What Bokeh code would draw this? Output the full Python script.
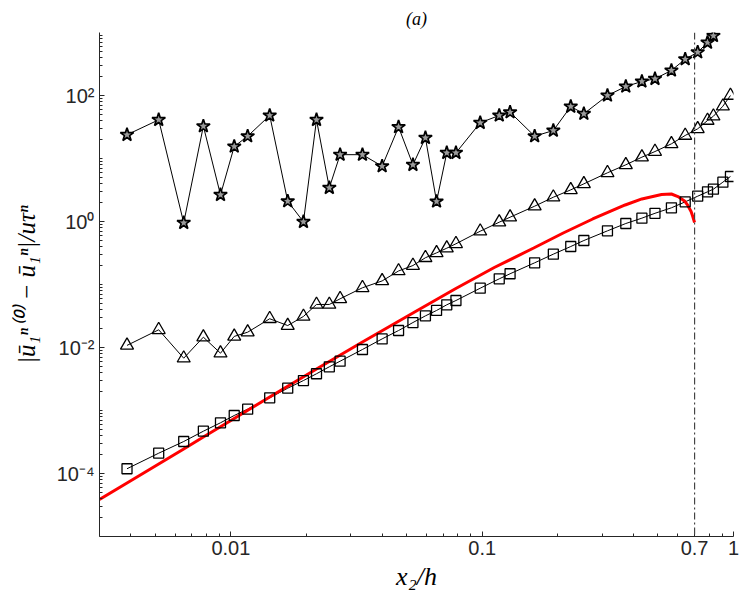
from bokeh.plotting import figure
from bokeh.models import FixedTicker, Span, Range1d
from bokeh.embed import file_html
from bokeh.resources import INLINE

# ---- data ----
x2h = [0.00386, 0.00516, 0.00649, 0.00777, 0.00909, 0.01031, 0.01166, 0.01427,
       0.01683, 0.01944, 0.02191, 0.02464, 0.02720, 0.03338, 0.03998, 0.04647,
       0.05301, 0.05944, 0.06582, 0.07228, 0.07862, 0.0982, 0.1169, 0.1291,
       0.1617, 0.1919, 0.2251, 0.2538, 0.3151, 0.3728, 0.4320, 0.4870, 0.5662,
       0.6424, 0.7203, 0.7882, 0.8320, 0.9073, 0.9725]

squares = [1.19e-4, 2.10e-4, 3.22e-4, 4.69e-4, 6.38e-4, 8.33e-4, 1.05e-3, 1.59e-3,
           2.26e-3, 2.99e-3, 3.83e-3, 4.94e-3, 6.06e-3, 9.30e-3, 1.37e-2, 1.86e-2,
           2.49e-2, 3.18e-2, 3.87e-2, 4.76e-2, 5.57e-2, 8.73e-2, 0.123, 0.148,
           0.221, 0.303, 0.401, 0.499, 0.711, 0.929, 1.13, 1.35, 1.65,
           2.05, 2.52, 2.96, 3.26, 4.21, 5.18]

triangles = [1.08e-2, 1.91e-2, 6.76e-3, 1.46e-2, 8.12e-3, 1.50e-2, 1.75e-2, 2.86e-2,
             2.23e-2, 3.11e-2, 4.82e-2, 4.82e-2, 5.93e-2, 8.87e-2, 0.114, 0.164,
             0.200, 0.266, 0.318, 0.377, 0.443, 0.701, 0.975, 1.17,
             1.75, 2.43, 3.18, 3.96, 5.93, 7.94, 10.5, 12.9, 17.1,
             23.2, 29.6, 40.1, 46.9, 67.6, 100.0]

stars = [23.8, 41.1, 0.953, 32.6, 2.65, 15.5, 22.6, 48.2,
         2.10, 0.989, 41.1, 3.43, 11.5, 11.5, 7.55, 31.6,
         7.94, 21.3, 2.08, 12.3, 12.3, 36.9, 48.2, 54.3,
         22.6, 27.8, 66.8, 51.3, 100.0, 139.0, 167.0, 184.0, 250.0,
         377.0, 486.0, 693.0, 887.0]

red_x = [0.003, 0.00386, 0.00516, 0.00649, 0.00777, 0.0100, 0.01427, 0.02191,
         0.03338, 0.0543, 0.0779, 0.1117, 0.1603, 0.2101, 0.2753, 0.3706,
         0.4320, 0.5174, 0.5661, 0.6013, 0.6383, 0.6580, 0.6780, 0.6886, 0.7]
red_y = [3.87e-5, 7.07e-5, 1.415e-4, 2.45e-4, 3.80e-4, 6.94e-4, 1.64e-3, 4.56e-3,
         1.22e-2, 3.73e-2, 8.48e-2, 0.186, 0.380, 0.657, 1.096, 1.83,
         2.28, 2.68, 2.73, 2.49, 2.12, 1.80, 1.44, 1.20, 0.964]

vline_x = 0.7

x_major = [0.01, 0.1, 0.7, 1.0]
x_labels = ["0.01", "0.1", "0.7", "1"]
x_minor = [0.004, 0.005, 0.006, 0.007, 0.008, 0.009,
           0.02, 0.03, 0.04, 0.05, 0.06, 0.07, 0.08, 0.09,
           0.2, 0.3, 0.4, 0.5, 0.6, 0.8, 0.9]
y_major = [1e-4, 1e-2, 1.0, 1e2]
y_labels = ["10\u207b\u2074", "10\u207b\u00b2", "10\u2070", "10\u00b2"]
y_minor = [m * 10.0 ** e for e in range(-5, 3) for m in range(1, 10)
           if not (m == 1 and e in (-4, -2, 0, 2))]

# ---- figure ----
p = figure(width=739, height=593, x_axis_type="log", y_axis_type="log",
           x_range=Range1d(0.003, 1.0), y_range=Range1d(1e-5, 1e3),
           output_backend="svg", toolbar_location=None,
           min_border_left=99, min_border_right=6, min_border_top=32,
           min_border_bottom=57)
p.outline_line_color = None
p.grid.visible = False
p.background_fill_color = "white"

p.title.text = "(a)"
p.title.align = "center"
p.title.text_font = "Liberation Serif"
p.title.text_font_style = "italic"
p.title.text_font_size = "18px"
p.title.text_color = "black"
p.title.standoff = 8

p.xaxis.ticker = FixedTicker(ticks=x_major, minor_ticks=x_minor)
p.yaxis.ticker = FixedTicker(ticks=y_major, minor_ticks=y_minor)
p.xaxis.major_label_overrides = dict(zip(x_major, x_labels))
p.yaxis.major_label_overrides = dict(zip(y_major, y_labels))

for ax in (p.xaxis[0], p.yaxis[0]):
    ax.axis_line_color = "#262626"
    ax.axis_line_width = 1
    ax.major_tick_line_color = "#262626"
    ax.minor_tick_line_color = "#262626"
    ax.major_tick_in = 5
    ax.major_tick_out = 0
    ax.minor_tick_in = 3
    ax.minor_tick_out = 0
    ax.major_label_text_font = "Liberation Sans"
    ax.major_label_text_font_size = "20px"
    ax.major_label_text_color = "#262626"
    ax.axis_label_text_font = "Liberation Serif"
    ax.axis_label_text_font_style = "italic"
    ax.axis_label_text_color = "black"

p.xaxis.axis_label = "x\u2082/h"
p.xaxis.axis_label_text_font_size = "26px"
p.xaxis.axis_label_standoff = 4
p.xaxis.major_label_standoff = 4
p.yaxis.axis_label = "|\u016b\u2081\u207f\u207d\u2070\u207e \u2212 \u016b\u2081\u207f|/u\u03c4\u207f"
p.yaxis.axis_label_text_font_size = "25px"
p.yaxis.axis_label_standoff = 14
p.yaxis.major_label_standoff = 5

# vertical dash-dot line
p.add_layout(Span(location=vline_x, dimension="height", line_color="#444444",
                  line_width=1.2, line_dash="7 3 2 3"))

n_st = len(stars)
# connecting lines
p.line(x2h, squares, line_color="black", line_width=1)
p.line(x2h, triangles, line_color="black", line_width=1)
p.line(x2h[:n_st], stars, line_color="black", line_width=1)

# red curve
p.line(red_x, red_y, line_color="#ff0000", line_width=3)

# markers
p.scatter(x2h, squares, marker="square", size=10, fill_color=None,
          line_color="black", line_width=1.3)
p.scatter(x2h, triangles, marker="triangle", size=13, fill_color=None,
          line_color="black", line_width=1.3)
p.scatter(x2h[:n_st], stars, marker="star", size=14, fill_color="#9a9a9a",
          line_color="black", line_width=1.7)

open("out.html", "w").write(file_html(p, INLINE))
